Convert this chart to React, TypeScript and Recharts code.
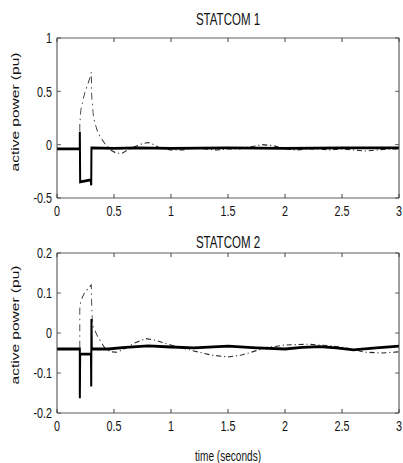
import { Label, Line, LineChart, XAxis, YAxis } from "recharts";

// time axis + tick values
const X_TICKS = [0, 0.5, 1, 1.5, 2, 2.5, 3];
const Y_TICKS_1 = [-0.5, 0, 0.5, 1];
const Y_TICKS_2 = [-0.2, -0.1, 0, 0.1, 0.2];

// STATCOM 1 - solid trace
const t1Solid = [0, 0.2, 0.2, 0.203, 0.25, 0.295, 0.3, 0.302, 0.5, 0.7, 1.0, 1.5, 2.0, 2.5, 3.0];
const p1Solid = [-0.04, -0.04, 0.12, -0.35, -0.34, -0.33, -0.38, -0.03, -0.035, -0.03, -0.035, -0.03, -0.035, -0.03, -0.03];

// STATCOM 1 - dash-dot trace
const t1Dash = [
  0, 0.2, 0.2, 0.21, 0.23, 0.25, 0.27, 0.29, 0.3, 0.305, 0.32, 0.35, 0.38, 0.42, 0.47, 0.52, 0.57, 0.62, 0.68,
  0.75, 0.8, 0.85, 0.9, 1.0, 1.1, 1.2, 1.3, 1.4, 1.5, 1.6, 1.7, 1.8, 1.9, 2.0, 2.1, 2.2, 2.3, 2.4, 2.5, 2.6,
  2.7, 2.8, 2.9, 3.0,
];
const p1Dash = [
  -0.04, -0.04, 0.2, 0.33, 0.43, 0.51, 0.57, 0.63, 0.68, 0.45, 0.25, 0.14, 0.07, 0.01, -0.05, -0.08, -0.08,
  -0.05, -0.02, 0.01, 0.02, 0.0, -0.03, -0.05, -0.05, -0.03, -0.04, -0.05, -0.04, -0.04, -0.02, 0.0, -0.01,
  -0.04, -0.05, -0.04, -0.04, -0.05, -0.04, -0.05, -0.06, -0.05, -0.04, -0.04,
];

// STATCOM 2 - solid trace
const t2Solid = [
  0, 0.2, 0.2, 0.203, 0.298, 0.3, 0.302, 0.305, 0.45, 0.6, 0.8, 1.0, 1.2, 1.5, 1.75, 2.0, 2.15, 2.3, 2.45, 2.6,
  2.8, 3.0,
];
const p2Solid = [
  -0.04, -0.04, -0.163, -0.053, -0.053, -0.134, 0.035, -0.04, -0.04, -0.036, -0.032, -0.035, -0.037, -0.033,
  -0.037, -0.04, -0.036, -0.034, -0.037, -0.042, -0.037, -0.033,
];

// STATCOM 2 - dash-dot trace
const t2Dash = [
  0, 0.2, 0.2, 0.21, 0.24, 0.27, 0.3, 0.31, 0.35, 0.38, 0.42, 0.47, 0.53, 0.6, 0.68, 0.78, 0.86, 0.95, 1.05,
  1.2, 1.35, 1.5, 1.62, 1.75, 1.85, 2.0, 2.2, 2.4, 2.55, 2.7, 2.85, 3.0,
];
const p2Dash = [
  -0.04, -0.04, 0.06, 0.082, 0.1, 0.11, 0.12, 0.02, -0.005, -0.02, -0.038, -0.047, -0.048, -0.038, -0.025,
  -0.014, -0.018, -0.026, -0.034, -0.045, -0.055, -0.06, -0.055, -0.044, -0.036, -0.03, -0.028, -0.032, -0.038,
  -0.048, -0.05, -0.047,
];

const zip = (t: number[], v: number[]) => t.map((time, i) => ({ time, value: v[i] }));

// the source figure is squashed horizontally, so draw wide and scale x down
const SQUISH = 0.72;
const W = 560;
const PLOT_LEFT = 79.2;
const PLOT_RIGHT = 554.2;
const FONT = '"Liberation Sans", Arial, sans-serif';
const INK = "#111";
const FRAME = "#444";
const X_TICK_LEN = 4;
const Y_TICK_LEN = 5.5;
const X_LABEL_GAP = 7.6;
const Y_LABEL_GAP = 7;

type Pt = { time: number; value: number };

type PanelProps = {
  title: string;
  height: number;
  plotTop: number;
  bottomHeight: number;
  titleOffset: number;
  yTicks: number[];
  yDomain: [number, number];
  solid: Pt[];
  dashed: Pt[];
  yLabelY: number;
  xLabel?: string;
};

function Panel(props: PanelProps) {
  const { title, height, plotTop, bottomHeight, titleOffset, yTicks, yDomain, solid, dashed, yLabelY, xLabel } = props;
  const plotBottom = height - bottomHeight;

  // matlab style: ticks point inward on both opposite edges
  const xTick = (p: any) => {
    const x = p.x;
    return (
      <g>
        <line x1={x} x2={x} y1={plotBottom} y2={plotBottom - X_TICK_LEN} stroke={FRAME} strokeWidth={1.4} />
        <line x1={x} x2={x} y1={plotTop} y2={plotTop + X_TICK_LEN} stroke={FRAME} strokeWidth={1.4} />
        <text x={x} y={plotBottom + X_LABEL_GAP} dy="0.71em" textAnchor="middle" fill={INK} fontSize={15} fontFamily={FONT}>
          {String(p.payload.value)}
        </text>
      </g>
    );
  };

  const yTick = (p: any) => {
    const y = p.y;
    return (
      <g>
        <line x1={PLOT_LEFT} x2={PLOT_LEFT + Y_TICK_LEN} y1={y} y2={y} stroke={FRAME} strokeWidth={1} />
        <line x1={PLOT_RIGHT} x2={PLOT_RIGHT - Y_TICK_LEN} y1={y} y2={y} stroke={FRAME} strokeWidth={1} />
        <text x={PLOT_LEFT - Y_LABEL_GAP} y={y} dy="0.355em" textAnchor="end" fill={INK} fontSize={15} fontFamily={FONT}>
          {String(p.payload.value)}
        </text>
      </g>
    );
  };

  return (
    <LineChart width={W} height={height} margin={{ top: plotTop - 1, right: 0, bottom: 0, left: 0 }}>
      <XAxis
        xAxisId="b"
        dataKey="time"
        type="number"
        domain={[0, 3]}
        ticks={X_TICKS}
        interval={0}
        height={bottomHeight}
        tickSize={0}
        tickLine={false}
        axisLine={{ stroke: FRAME, strokeWidth: 1 }}
        tick={xTick}
      >
        {xLabel && (
          <Label
            value={xLabel}
            position="insideBottom"
            offset={2}
            style={{ fill: INK, fontSize: 14, fontFamily: FONT }}
          />
        )}
      </XAxis>
      <XAxis
        xAxisId="t"
        orientation="top"
        type="number"
        domain={[0, 3]}
        height={1}
        tickLine={false}
        axisLine={{ stroke: FRAME, strokeWidth: 1 }}
        tick={false}
      >
        <Label value={title} position="top" offset={titleOffset} style={{ fill: INK, fontSize: 16, fontFamily: FONT }} />
      </XAxis>
      <YAxis
        yAxisId="l"
        type="number"
        domain={yDomain}
        ticks={yTicks}
        interval={0}
        width={PLOT_LEFT}
        tickSize={0}
        tickLine={false}
        axisLine={{ stroke: FRAME, strokeWidth: 1.4 }}
        tick={yTick}
      >
        <Label
          content={() => (
            <text
              x={20.8}
              y={yLabelY}
              dy="0.35em"
              textAnchor="middle"
              transform={`rotate(-90, 20.8, ${yLabelY})`}
              style={{ fill: INK, fontSize: 15.5, fontFamily: FONT }}
            >
              active power (pu)
            </text>
          )}
        />
      </YAxis>
      <YAxis
        yAxisId="r"
        orientation="right"
        type="number"
        domain={yDomain}
        width={W - PLOT_RIGHT}
        tickLine={false}
        axisLine={{ stroke: FRAME, strokeWidth: 1.4 }}
        tick={false}
      />
      <Line
        xAxisId="b"
        yAxisId="l"
        data={dashed}
        dataKey="value"
        type="linear"
        stroke="#222"
        strokeWidth={1.1}
        strokeDasharray="7 4 1.5 4"
        dot={false}
        isAnimationActive={false}
      />
      <Line
        xAxisId="b"
        yAxisId="l"
        data={solid}
        dataKey="value"
        type="linear"
        stroke="#000"
        strokeWidth={2.8}
        dot={false}
        isAnimationActive={false}
      />
    </LineChart>
  );
}

export default function App() {
  return (
    <div
      style={{
        position: "absolute",
        left: 0,
        top: 0,
        width: W,
        height: 463,
        background: "#fff",
        transform: `scaleX(${SQUISH})`,
        transformOrigin: "0 0",
      }}
    >
      <Panel
        title="STATCOM 1"
        height={222}
        plotTop={38}
        bottomHeight={24}
        titleOffset={12}
        yTicks={Y_TICKS_1}
        yDomain={[-0.5, 1]}
        solid={zip(t1Solid, p1Solid)}
        dashed={zip(t1Dash, p1Dash)}
        yLabelY={112}
      />
      <Panel
        title="STATCOM 2"
        height={241}
        plotTop={31}
        bottomHeight={50}
        titleOffset={4}
        yTicks={Y_TICKS_2}
        yDomain={[-0.2, 0.2]}
        solid={zip(t2Solid, p2Solid)}
        dashed={zip(t2Dash, p2Dash)}
        yLabelY={103}
        xLabel="time (seconds)"
      />
    </div>
  );
}
